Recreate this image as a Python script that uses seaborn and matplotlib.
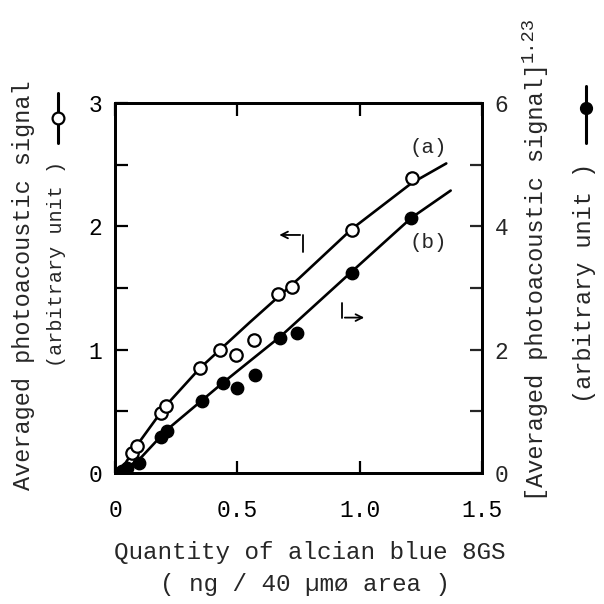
import matplotlib
matplotlib.use("Agg")
import matplotlib.pyplot as plt
from matplotlib.lines import Line2D
import seaborn as sns
import pandas as pd

# open circles, left axis (a)
x_open = [0.07, 0.088, 0.19, 0.208, 0.347, 0.43, 0.496, 0.568, 0.665, 0.723, 0.969, 1.212]
y_open = [0.16, 0.22, 0.49, 0.54, 0.85, 1.00, 0.96, 1.08, 1.45, 1.51, 1.97, 2.39]

# filled circles, right axis (b)
x_fill = [0.03, 0.05, 0.097, 0.19, 0.212, 0.354, 0.44, 0.50, 0.573, 0.676, 0.742, 0.97, 1.21]
y_fill = [0.03, 0.08, 0.16, 0.59, 0.68, 1.16, 1.46, 1.38, 1.59, 2.19, 2.27, 3.25, 4.14]

# drawn curves
x_line_a = [0.02, 0.088, 0.205, 0.347, 0.55, 0.753, 0.969, 1.212, 1.354]
y_line_a = [0.01, 0.22, 0.54, 0.85, 1.22, 1.58, 1.98, 2.35, 2.51]
x_line_b = [0.02, 0.104, 0.212, 0.44, 0.678, 0.969, 1.212, 1.372]
y_line_b = [0.0, 0.24, 0.70, 1.46, 2.22, 3.27, 4.14, 4.58]

FONT = "Liberation Mono"
sns.set_theme(style="ticks")
plt.rcParams['font.family'] = [FONT, 'DejaVu Sans']

fig = plt.figure(figsize=(6.04, 6.04), dpi=100)
ax = fig.add_axes([115/604, 1 - 473/604, 367/604, 370/604])
ax2 = ax.twinx()

open_df = pd.DataFrame({"x": x_open, "y": y_open})
fill_df = pd.DataFrame({"x": x_fill, "y": y_fill})
la = pd.DataFrame({"x": x_line_a, "y": y_line_a})
lb = pd.DataFrame({"x": x_line_b, "y": y_line_b})

sns.lineplot(data=la, x="x", y="y", ax=ax, color="black", lw=1.9, sort=False)
sns.scatterplot(data=open_df, x="x", y="y", ax=ax, s=80, facecolor="white",
                edgecolor="black", linewidth=1.6, zorder=3)
sns.lineplot(data=lb, x="x", y="y", ax=ax2, color="black", lw=1.9, sort=False)
sns.scatterplot(data=fill_df, x="x", y="y", ax=ax2, s=80, color="black",
                edgecolor="black", linewidth=1.0, zorder=3)

ax.set_xlim(0, 1.5)
ax.set_ylim(0, 3)
ax2.set_ylim(0, 6)
ax.set_xlabel("")
ax.set_ylabel("")
ax2.set_ylabel("")

ax.set_xticks([0, 0.5, 1.0, 1.5])
ax.set_xticklabels(["0", "0.5", "1.0", "1.5"])
ax.set_yticks([0, 0.5, 1, 1.5, 2, 2.5, 3])
ax.set_yticklabels(["0", "", "1", "", "2", "", "3"])
ax2.set_yticks([0, 1, 2, 3, 4, 5, 6])
ax2.set_yticklabels(["0", "", "2", "", "4", "", "6"])

ax.tick_params(axis="both", direction="in", length=9, width=1.6, labelsize=16.5,
               top=True, colors="black")
ax.tick_params(axis="x", pad=19)
ax.tick_params(axis="y", pad=9)
ax2.tick_params(axis="y", direction="in", length=9, width=1.6, labelsize=16.5, pad=9)
for a in (ax, ax2):
    for sp in a.spines.values():
        sp.set_linewidth(2.0)
        sp.set_color("black")

# hook arrows and curve labels
ax.plot([0.768, 0.768], [1.79, 1.93], color="black", lw=1.3)
ax.annotate("", xy=(0.66, 1.93), xytext=(0.768, 1.93),
            arrowprops=dict(arrowstyle="->", color="black", lw=1.3))
ax.plot([0.928, 0.928], [1.38, 1.26], color="black", lw=1.3)
ax.annotate("", xy=(1.03, 1.26), xytext=(0.928, 1.26),
            arrowprops=dict(arrowstyle="->", color="black", lw=1.3))
ax.text(1.28, 2.64, "(a)", fontsize=15, ha="center", va="center")
ax.text(1.28, 1.87, "(b)", fontsize=15, ha="center", va="center")

# axis titles
fig.text(310/604, 1 - 553/604, "Quantity of alcian blue 8GS", fontsize=17.5,
         ha="center", va="center")
fig.text(305/604, 1 - 585/604, "( ng / 40 \u00b5m\u00f8 area )", fontsize=17.5,
         ha="center", va="center")
fig.text(24/604, 1 - 285/604, "Averaged photoacoustic signal", fontsize=16.9,
         rotation=90, ha="center", va="center")
fig.text(57/604, 1 - 264/604, "(arbitrary unit )", fontsize=14.5,
         rotation=90, ha="center", va="center")
fig.text(537/604, 1 - 282/604, "[Averaged photoacoustic signal]", fontsize=17,
         rotation=90, ha="center", va="center")
fig.text(528/604, 1 - 40/604, "1.23", fontsize=13.5,
         rotation=90, ha="center", va="center")
fig.text(585/604, 1 - 283/604, "(arbitrary unit )", fontsize=17,
         rotation=90, ha="center", va="center")

# symbol keys next to the axis titles
fig.add_artist(Line2D([58/604] * 3, [1 - 93/604, 1 - 118/604, 1 - 143/604],
                      color="black", lw=2.2, marker="o", markevery=[1], ms=8.5,
                      mfc="white", mec="black", mew=1.6))
fig.add_artist(Line2D([586/604] * 3, [1 - 86/604, 1 - 108/604, 1 - 143/604],
                      color="black", lw=2.2, marker="o", markevery=[1], ms=8.5,
                      mfc="black", mec="black"))

fig.savefig("out.png", dpi=100, facecolor="white")
